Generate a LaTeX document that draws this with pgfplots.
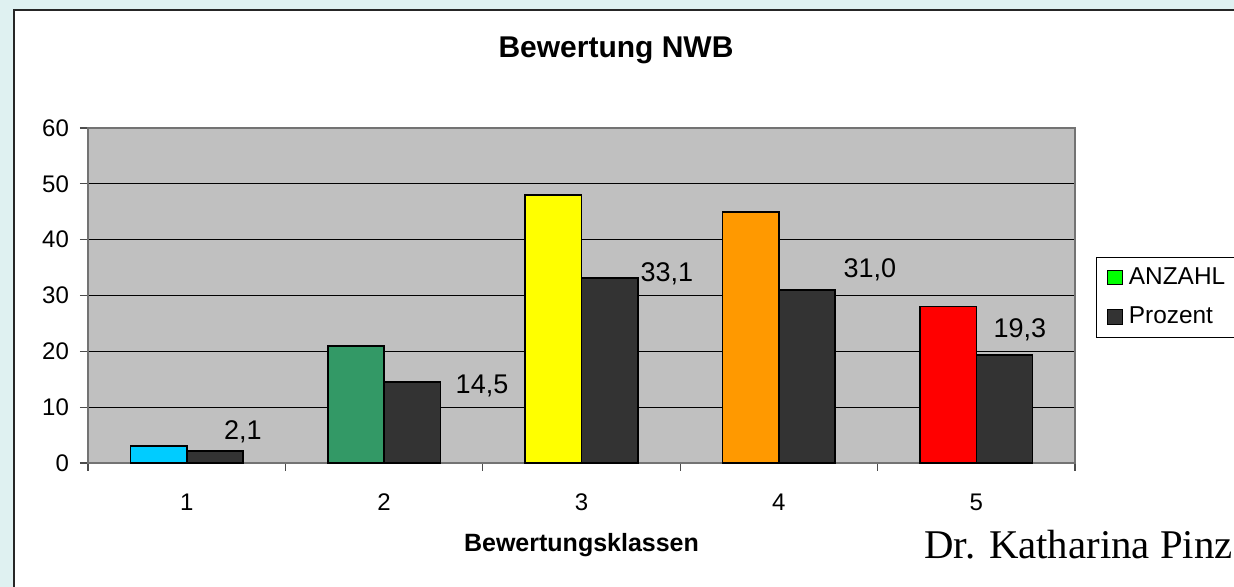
\documentclass[border=0pt]{standalone}
\usepackage{fontspec}
\setmainfont{Liberation Sans}
\newfontfamily\seriffont{Liberation Serif}
\usepackage{pgfplots}
\pgfplotsset{compat=1.18}
\definecolor{bgcyan}{HTML}{DFF1F1}
\definecolor{plotgray}{HTML}{C0C0C0}
\definecolor{c1}{HTML}{00CCFF}
\definecolor{c2}{HTML}{339966}
\definecolor{c3}{HTML}{FFFF00}
\definecolor{c4}{HTML}{FF9900}
\definecolor{c5}{HTML}{FF0000}
\definecolor{dark}{HTML}{333333}
\definecolor{leggreen}{HTML}{00FF00}
\begin{document}
\begin{tikzpicture}
\useasboundingbox (-44pt,-62pt) rectangle (573pt,231.5pt);
\clip (-44pt,-62pt) rectangle (573pt,231.5pt);
\fill[bgcyan] (-44pt,-62pt) rectangle (573pt,231.5pt);
\draw[fill=white, draw=black!85, line width=1pt] (-37pt,-80pt) rectangle (600pt,226.5pt);
\begin{axis}[
  at={(0pt,0pt)}, anchor=south west,
  scale only axis,
  width=493.5pt, height=167.5pt,
  xmin=0, xmax=5, ymin=0, ymax=60,
  axis background/.style={fill=plotgray},
  axis line style={draw=black!55, line width=0.8pt},
  ytick={0,10,...,60},
  xtick={0,1,...,5},
  xticklabels={},
  xtick pos=bottom, ytick pos=left,
  extra x ticks={0.5,1.5,2.5,3.5,4.5},
  extra x tick labels={1,2,3,4,5},
  extra x tick style={major tick length=0pt, grid=none, xticklabel style={yshift=-12pt}},
  tick align=outside,
  major tick length=4pt,
  tick style={draw=black!70, line width=0.6pt},
  ymajorgrids,
  major grid style={draw=black, line width=0.6pt},
  /pgf/number format/assume math mode=true,
  ticklabel style={font=\fontsize{12}{12}\selectfont},
  yticklabel style={xshift=-2pt},
  xlabel={Bewertungsklassen},
  xlabel style={at={(axis description cs:0.5,0)}, anchor=center, yshift=-41pt, font=\bfseries\fontsize{12.5}{12.5}\selectfont},
  legend style={at={(rel axis cs:1.021,0.615)}, anchor=north west, draw=black, fill=white,
    font=\fontsize{12.2}{12.2}\selectfont, inner xsep=4pt, inner ysep=3pt, row sep=6pt, cells={anchor=west}},
  legend image code/.code={\path (0pt,0pt) (10pt,0pt); \draw[#1, draw=black, line width=0.5pt] (1.5pt,-3.6pt) rectangle (8.9pt,3.6pt);},
  clip=false,
]
\addplot[ybar, bar width=0.285, bar shift=-0.1425, fill=c1, draw=black, line width=0.8pt, forget plot] coordinates {(0.5,3)};
\addplot[ybar, bar width=0.285, bar shift=-0.1425, fill=c2, draw=black, line width=0.8pt, forget plot] coordinates {(1.5,21)};
\addplot[ybar, bar width=0.285, bar shift=-0.1425, fill=c3, draw=black, line width=0.8pt, forget plot] coordinates {(2.5,48)};
\addplot[ybar, bar width=0.285, bar shift=-0.1425, fill=c4, draw=black, line width=0.8pt, forget plot] coordinates {(3.5,45)};
\addplot[ybar, bar width=0.285, bar shift=-0.1425, fill=c5, draw=black, line width=0.8pt, forget plot] coordinates {(4.5,28)};
\addplot[ybar, bar width=0.285, bar shift=0.1425, fill=dark, draw=black, line width=0.8pt, forget plot] coordinates {(0.5,2.1) (1.5,14.5) (2.5,33.1) (3.5,31.0) (4.5,19.3)};
\addlegendimage{fill=leggreen}
\addlegendentry{ANZAHL\hspace*{14pt}\null}
\addlegendimage{fill=dark}
\addlegendentry{Prozent}
\node[font=\fontsize{13.5}{13.5}\selectfont] at (axis cs:0.785,5.6) {2,1};
\node[font=\fontsize{13.5}{13.5}\selectfont] at (axis cs:1.996,13.8) {14,5};
\node[font=\fontsize{13.5}{13.5}\selectfont] at (axis cs:2.933,33.9) {33,1};
\node[font=\fontsize{13.5}{13.5}\selectfont] at (axis cs:3.961,34.6) {31,0};
\node[font=\fontsize{13.5}{13.5}\selectfont] at (axis cs:4.721,23.9) {19,3};
\end{axis}
\node[font=\bfseries\fontsize{15}{15}\selectfont] at (264pt,206.5pt) {Bewertung NWB};
\node[font=\seriffont\fontsize{20.4}{20.4}\selectfont, anchor=base west, inner sep=0pt] at (418pt,-48pt) {Dr. Katharina Pinz};
\end{tikzpicture}
\end{document}
